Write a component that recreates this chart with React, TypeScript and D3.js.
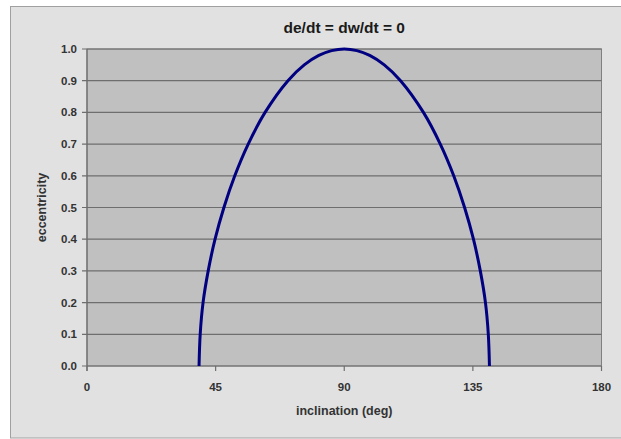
import React from 'react'
import * as d3 from 'd3'

// inclination (deg), eccentricity on the y axis
const INCLINATION = [39.2, 39.6, 40.6, 42.4, 44.8, 47.9, 51.7, 56.4, 62.3, 70.3, 76.0, 81.1, 85.6, 90,
  94.4, 98.9, 104.0, 109.7, 117.7, 123.6, 128.3, 132.1, 135.2, 137.6, 139.4, 140.4, 140.8]
const ECCENTRICITY = [0, 0.1, 0.2, 0.3, 0.4, 0.5, 0.6, 0.7, 0.8, 0.9, 0.95, 0.98, 0.995, 1.0,
  0.995, 0.98, 0.95, 0.9, 0.8, 0.7, 0.6, 0.5, 0.4, 0.3, 0.2, 0.1, 0]
const X_TICKS = [0, 45, 90, 135, 180]
const Y_TICKS = [0, 0.1, 0.2, 0.3, 0.4, 0.5, 0.6, 0.7, 0.8, 0.9, 1.0]

const W = 621
const H = 439
const plot = { left: 87, right: 601.5, top: 49, bottom: 366 }
const font = '"Liberation Sans", Arial, sans-serif'

export default function App() {
  const x = d3.scaleLinear().domain([0, 180]).range([plot.left, plot.right])
  const y = d3.scaleLinear().domain([0, 1]).range([plot.bottom, plot.top])

  const pts: [number, number][] = INCLINATION.map((d, i) => [d, ECCENTRICITY[i]])
  const line = d3.line<[number, number]>()
    .x(d => x(d[0]))
    .y(d => y(d[1]))
    .curve(d3.curveCatmullRom.alpha(0.5))

  return (
    <svg width={W} height={H} style={{ position: 'absolute', left: 0, top: 0 }} fontFamily={font}>
      <rect x={0} y={0} width={W} height={H} fill="#ffffff" />
      <rect x={10.5} y={6.5} width={W} height={431.5} fill="#e1e1e1" stroke="#a0a0a0" strokeWidth={1} />
      <text x={(plot.left + plot.right) / 2} y={33} textAnchor="middle" fontSize={15.5} fontWeight="bold" fill="#1a1a1a">
        de/dt = dw/dt = 0
      </text>
      <rect x={plot.left} y={plot.top} width={plot.right - plot.left} height={plot.bottom - plot.top}
        fill="#c0c0c0" stroke="#808080" strokeWidth={1} />
      {Y_TICKS.map(t => (
        <g key={'y' + t}>
          <line x1={plot.left - 5} x2={plot.right} y1={y(t)} y2={y(t)} stroke="#6e6e6e" strokeWidth={1.2} />
          <text x={plot.left - 10} y={y(t) + 4} textAnchor="end" fontSize={11.5} fontWeight="bold" fill="#333">
            {t.toFixed(1)}
          </text>
        </g>
      ))}
      <line x1={plot.left} x2={plot.left} y1={plot.top} y2={plot.bottom + 5} stroke="#6e6e6e" strokeWidth={1.2} />
      {X_TICKS.map(t => (
        <g key={'x' + t}>
          <line x1={x(t)} x2={x(t)} y1={plot.bottom} y2={plot.bottom + 5} stroke="#6e6e6e" strokeWidth={1.2} />
          <text x={x(t)} y={plot.bottom + 25} textAnchor="middle" fontSize={11.5} fontWeight="bold" fill="#333">
            {t}
          </text>
        </g>
      ))}
      <path d={line(pts) || ''} fill="none" stroke="#000080" strokeWidth={3} />
      <text x={(plot.left + plot.right) / 2} y={415} textAnchor="middle" fontSize={12.5} fontWeight="bold" fill="#333">
        inclination (deg)
      </text>
      <text transform={`translate(46,${(plot.top + plot.bottom) / 2}) rotate(-90)`} textAnchor="middle"
        fontSize={12.5} fontWeight="bold" fill="#333">
        eccentricity
      </text>
    </svg>
  )
}
